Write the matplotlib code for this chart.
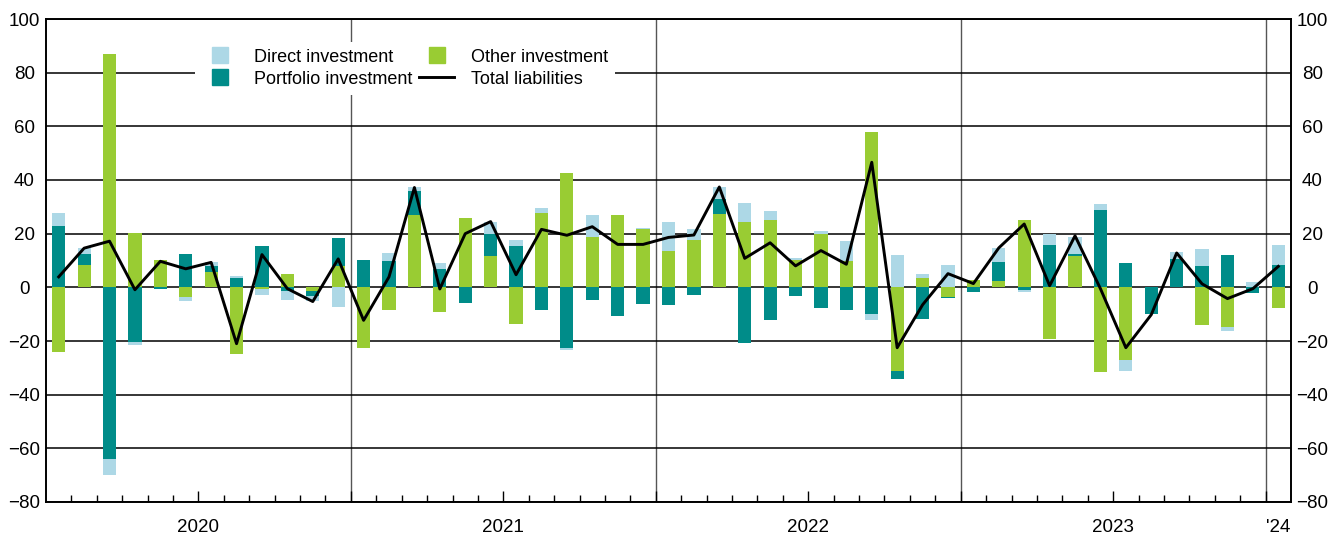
import numpy as np
import matplotlib
matplotlib.use("Agg")
import matplotlib.pyplot as plt
from matplotlib.lines import Line2D

plt.rcParams['font.family'] = ['Liberation Sans', 'DejaVu Sans']

# monthly flows, Jan 2020 .. Jan 2024
direct = [4.7, 2.3, -5.7, -1.3, 0.0, -1.5, 1.2, 0.6, -2.2, -3.5, -1.9, -7.5,
          0.0, 2.8, 1.3, 1.9, 0.0, 4.6, 2.4, 1.8, -0.9, 8.5, 0.0, 0.6,
          10.8, 3.8, 4.6, 7.2, 3.4, 0.8, 1.1, 7.4, -2.3, 12.0, 1.7, 8.5,
          0.0, 5.2, -0.6, 4.3, 6.5, 2.2, -4.2, 0.0, 2.5, 6.5, -1.5, 2.0,
          7.6]
portfolio = [23.0, 3.8, -64.1, -20.2, -0.5, 12.4, 2.5, 3.5, 15.3, -1.2, -1.9, 10.2,
             10.2, 9.9, 9.2, 7.0, -6.0, 8.1, 15.4, -8.3, -22.5, -4.8, -10.7, -6.3,
             -6.4, -2.8, 5.5, -20.8, -12.3, -3.4, -7.6, -8.5, -9.8, -3.1, -11.8, -0.3,
             -1.9, 7.0, -1.1, 15.6, 0.8, 28.9, 8.9, -10.1, 10.5, 7.9, 12.0, -2.1,
             8.2]
other = [-24.2, 8.5, 86.8, 20.1, 10.2, -3.7, 5.6, -24.8, -0.6, 5.0, -1.4, 8.0,
         -22.5, -8.5, 26.8, -9.2, 25.8, 11.8, -13.6, 27.6, 42.6, 18.6, 27.1, 21.6,
         13.6, 17.8, 27.3, 24.3, 25.2, 10.3, 20.0, 9.8, 58.0, -31.0, 3.3, -3.7,
         2.7, 2.5, 25.0, -19.3, 11.6, -31.4, -27.0, 0.2, 0.2, -14.0, -14.6, 0.0,
         -7.6]
total = [3.9, 14.6, 17.2, -0.9, 9.7, 6.9, 9.3, -21.0, 12.2, -0.5, -5.3, 10.6,
         -12.3, 3.9, 37.2, -0.6, 20.0, 24.5, 4.7, 21.6, 19.4, 22.6, 16.0, 16.0,
         18.6, 19.5, 37.4, 10.8, 16.6, 8.0, 13.7, 8.6, 46.6, -22.5, -6.5, 5.1,
         1.4, 14.7, 23.6, 0.6, 19.2, -0.5, -22.5, -10.2, 12.8, 1.3, -4.2, -0.5,
         7.8]

year_labels = ["2020", "2021", "2022", "2023", "'24"]
year_label_pos = [6, 18, 30, 42, 48.5]
year_breaks = [12, 24, 36, 48]

c_direct = "#ADD8E6"
c_portfolio = "#008C89"
c_other = "#99CC33"

fig = plt.figure(figsize=(13.44, 5.35), dpi=100)
ax = fig.add_axes([46 / 1344, 33 / 535, 1245 / 1344, 483 / 535])

n = len(total)
x = np.arange(n) + 0.5

pos = np.zeros(n)
neg = np.zeros(n)
for vals, col in [(other, c_other), (portfolio, c_portfolio), (direct, c_direct)]:
    v = np.array(vals)
    bottom = np.where(v >= 0, pos, neg)
    ax.bar(x, v, width=0.52, bottom=bottom, color=col, linewidth=0, zorder=2)
    pos += np.clip(v, 0, None)
    neg += np.clip(v, None, 0)

ax.plot(x, total, color="black", lw=2.1, zorder=3)

ax.set_xlim(0, n)
ax.set_ylim(-80, 100)
ax.set_yticks(range(-80, 101, 20))
ax.yaxis.grid(True, color="black", lw=1.1)
ax.set_axisbelow(True)
for yb in year_breaks:
    ax.axvline(yb, color="#555555", lw=1.0, zorder=0.5)

for s in ax.spines.values():
    s.set_linewidth(1.4)

ax.set_xticks(np.arange(6, n, 6))
ax.set_xticks(np.arange(1, n), minor=True)
ax.tick_params(axis="x", which="major", direction="in", length=8, width=1, labelbottom=False)
ax.tick_params(axis="x", which="minor", direction="in", length=5, width=1)
ax.tick_params(axis="y", which="both", length=0, labelsize=13.5, pad=15.5,
               labelleft=True, labelright=True)
for t in ax.yaxis.get_major_ticks():
    t.label1.set_horizontalalignment("center")
    t.label2.set_horizontalalignment("center")

for lbl, xp in zip(year_labels, year_label_pos):
    ax.annotate(lbl, xy=(xp, 0), xycoords=("data", "axes fraction"),
                xytext=(0, -12), textcoords="offset points",
                ha="center", va="top", fontsize=13.5)

handles = [
    Line2D([], [], marker="s", ls="", ms=11, color=c_direct),
    Line2D([], [], marker="s", ls="", ms=11, color=c_portfolio),
    Line2D([], [], marker="s", ls="", ms=11, color=c_other),
    Line2D([], [], color="black", lw=2.1),
]
labels = ["Direct investment", "Portfolio investment", "Other investment", "Total liabilities"]
leg = ax.legend(handles, labels, ncol=2, loc="upper left",
                bbox_to_anchor=(0.1125, 0.972), fontsize=13,
                handlelength=1.94, handletextpad=0.94, columnspacing=0.35,
                labelspacing=0.27, borderpad=0.4, frameon=True,
                facecolor="white", edgecolor="none", framealpha=1, fancybox=False)

fig.savefig("out.png", dpi=100)
